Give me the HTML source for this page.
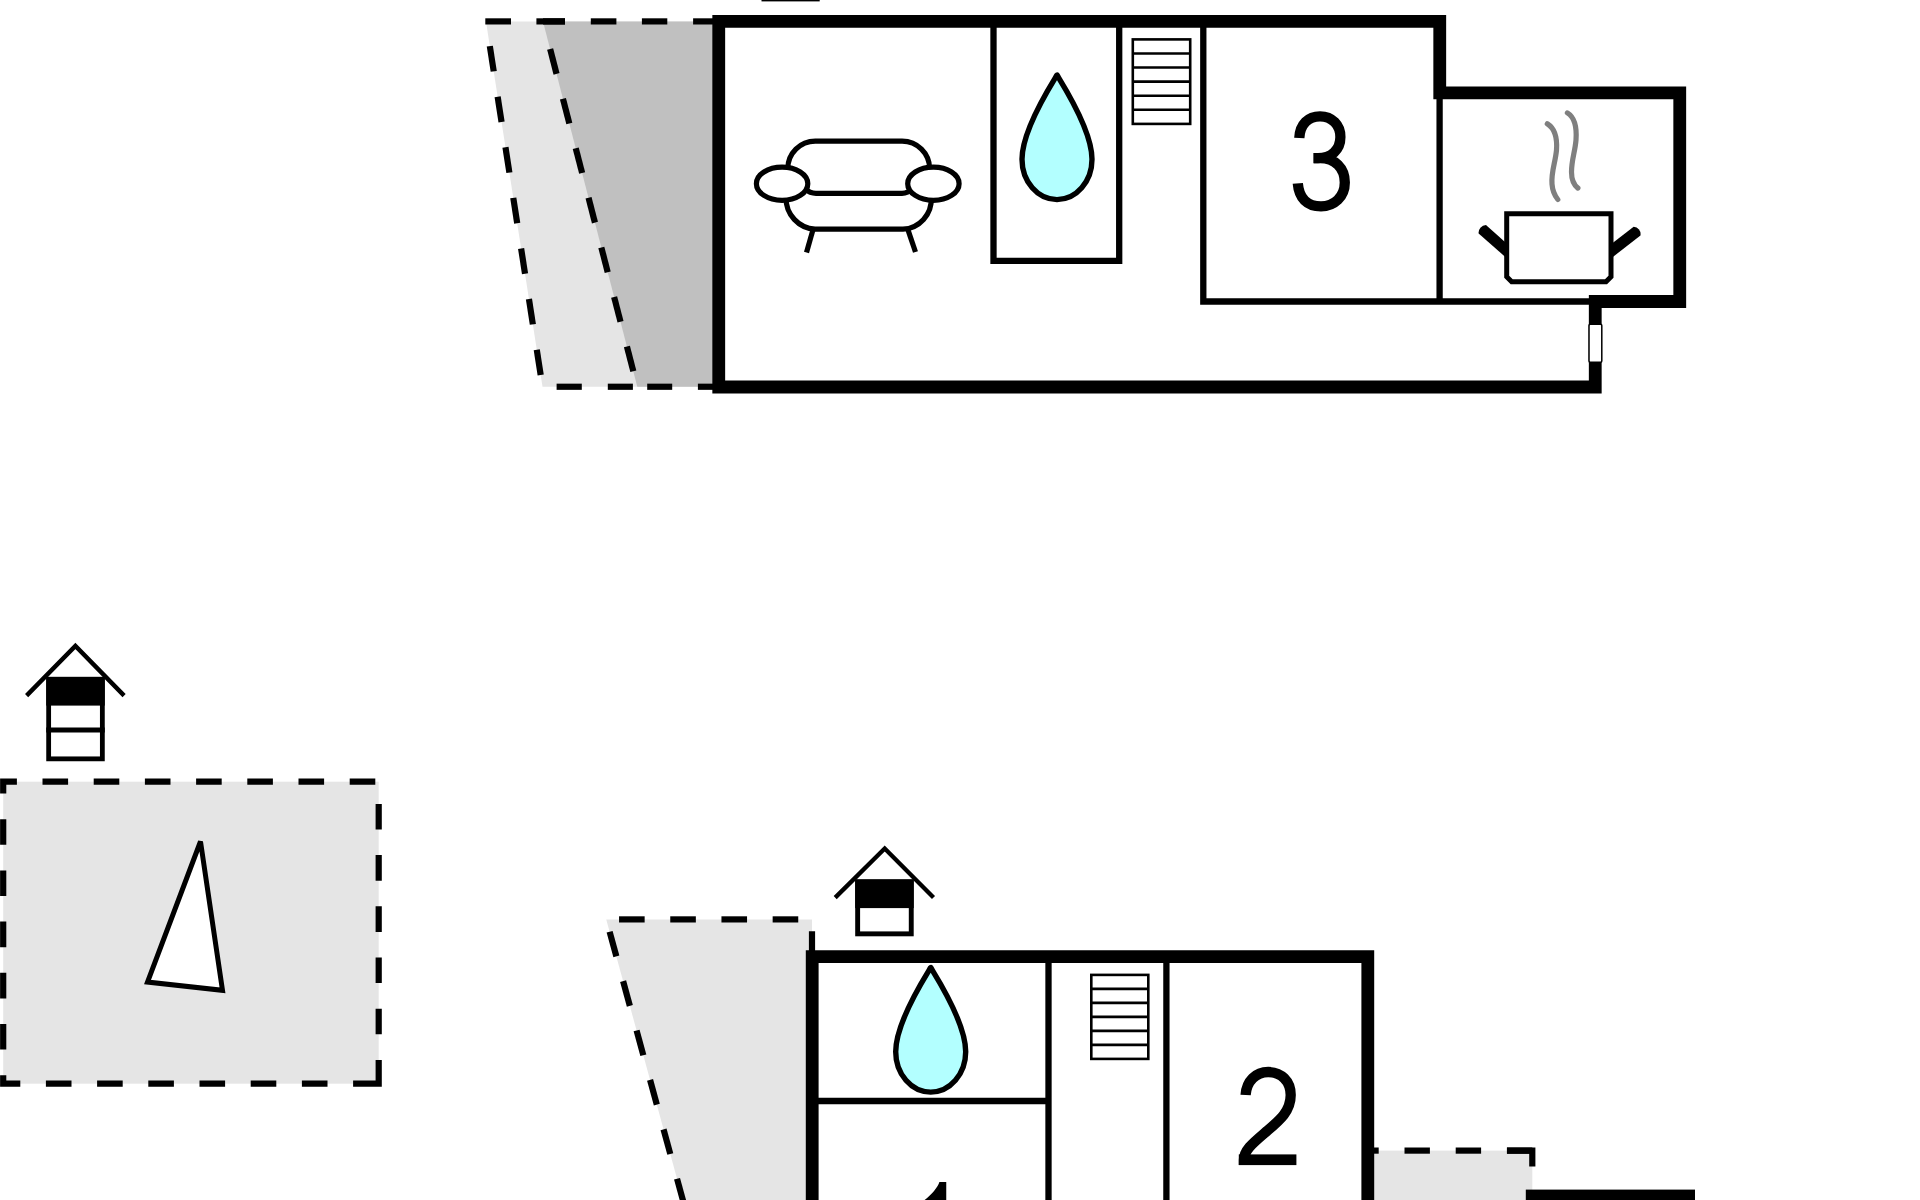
<!DOCTYPE html>
<html><head><meta charset="utf-8"><style>html,body{margin:0;padding:0;width:1920px;height:1200px;overflow:hidden;background:#fff;font-family:"Liberation Sans",sans-serif}</style></head>
<body>
<svg width="1920" height="1200" viewBox="0 0 1920 1200" style="position:absolute;left:0;top:0">
<rect width="1920" height="1200" fill="#fff"/>
<polygon points="486,21.4 718.75,21.4 718.75,386.75 542.5,386.75" fill="#e5e5e5"/>
<polygon points="543,21.4 718.75,21.4 718.75,386.75 637.3,386.75" fill="#c0c0c0"/>
<line x1="485.30" y1="21.40" x2="511.00" y2="21.40" stroke="#000" stroke-width="6.2"/>
<line x1="536.40" y1="21.40" x2="565.00" y2="21.40" stroke="#000" stroke-width="6.2"/>
<line x1="543.00" y1="21.40" x2="565.00" y2="21.40" stroke="#000" stroke-width="6.2"/>
<line x1="590.80" y1="21.40" x2="616.40" y2="21.40" stroke="#000" stroke-width="6.2"/>
<line x1="641.90" y1="21.40" x2="667.30" y2="21.40" stroke="#000" stroke-width="6.2"/>
<line x1="693.10" y1="21.40" x2="718.70" y2="21.40" stroke="#000" stroke-width="6.2"/>
<line x1="489.82" y1="46.10" x2="493.73" y2="71.40" stroke="#000" stroke-width="6.2"/>
<line x1="497.64" y1="96.70" x2="501.56" y2="122.00" stroke="#000" stroke-width="6.2"/>
<line x1="505.47" y1="147.30" x2="509.38" y2="172.60" stroke="#000" stroke-width="6.2"/>
<line x1="513.29" y1="197.90" x2="517.21" y2="223.19" stroke="#000" stroke-width="6.2"/>
<line x1="521.12" y1="248.49" x2="525.03" y2="273.79" stroke="#000" stroke-width="6.2"/>
<line x1="528.94" y1="299.09" x2="532.86" y2="324.39" stroke="#000" stroke-width="6.2"/>
<line x1="536.77" y1="349.69" x2="540.68" y2="374.99" stroke="#000" stroke-width="6.2"/>
<line x1="550.15" y1="49.10" x2="556.55" y2="73.89" stroke="#000" stroke-width="6.2"/>
<line x1="562.95" y1="98.68" x2="569.34" y2="123.46" stroke="#000" stroke-width="6.2"/>
<line x1="575.74" y1="148.25" x2="582.14" y2="173.04" stroke="#000" stroke-width="6.2"/>
<line x1="588.54" y1="197.83" x2="594.93" y2="222.61" stroke="#000" stroke-width="6.2"/>
<line x1="601.33" y1="247.40" x2="607.73" y2="272.19" stroke="#000" stroke-width="6.2"/>
<line x1="614.13" y1="296.98" x2="620.53" y2="321.76" stroke="#000" stroke-width="6.2"/>
<line x1="626.92" y1="346.55" x2="633.32" y2="371.34" stroke="#000" stroke-width="6.2"/>
<line x1="556.60" y1="386.75" x2="581.80" y2="386.75" stroke="#000" stroke-width="6.2"/>
<line x1="607.80" y1="386.75" x2="632.90" y2="386.75" stroke="#000" stroke-width="6.2"/>
<line x1="647.20" y1="386.75" x2="672.20" y2="386.75" stroke="#000" stroke-width="6.2"/>
<line x1="697.90" y1="386.75" x2="718.75" y2="386.75" stroke="#000" stroke-width="6.2"/>
<path d="M718.75,21.3 H1439.75 V92.8 H1679.75 V301.5 H1595.25 V387 H718.75 Z" fill="none" stroke="#000" stroke-width="12.8" stroke-linejoin="miter"/>
<rect x="1589" y="324.2" width="12.8" height="38" rx="1.2" fill="#fff" stroke="#000" stroke-width="1.5"/>
<path d="M993.5,21.3 V260.9 H1119.2 V21.3" fill="none" stroke="#000" stroke-width="6.3"/>
<path d="M1203.3,21.3 V301.5 H1595.25" fill="none" stroke="#000" stroke-width="6.3"/>
<path d="M1439.6,92.8 V301.5" fill="none" stroke="#000" stroke-width="6.3"/>
<rect x="761.5" y="-4" width="58.2" height="5.4" fill="#000"/>
<rect x="1132.8" y="39.4" width="57.40000000000009" height="84.5" fill="#fff" stroke="#000" stroke-width="2.6"/>
<line x1="1132.8" y1="53.48" x2="1190.2" y2="53.48" stroke="#000" stroke-width="2.6"/>
<line x1="1132.8" y1="67.57" x2="1190.2" y2="67.57" stroke="#000" stroke-width="2.6"/>
<line x1="1132.8" y1="81.65" x2="1190.2" y2="81.65" stroke="#000" stroke-width="2.6"/>
<line x1="1132.8" y1="95.73" x2="1190.2" y2="95.73" stroke="#000" stroke-width="2.6"/>
<line x1="1132.8" y1="109.82" x2="1190.2" y2="109.82" stroke="#000" stroke-width="2.6"/>
<path d="M1057.0,75.00 C1051.0,85.00 1022.0,130.00 1022.0,159.30 A35,40.3 0 0 0 1092.0,159.30 C1092.0,130.00 1063.0,85.00 1057.0,75.00 Z" fill="#b3ffff" stroke="#000" stroke-width="5.4" stroke-linejoin="round"/>
<g fill="none" stroke="#000" stroke-width="5.2">
<path d="M787.8,185 V168.5 A27.5,27.5 0 0 1 815.3,141.1 H902 A27.5,27.5 0 0 1 929.6,168.5 V185"/>
<path d="M805,189 Q810,193.3 816,193.3 H902 Q908,193.3 912,189"/>
<path d="M786,198 A31,31 0 0 0 815,229.2 H903 A30,30 0 0 0 931.3,198"/>
<line x1="813" y1="229.6" x2="806.5" y2="252.5"/><line x1="907.9" y1="229.6" x2="915.5" y2="252"/>
<ellipse cx="782.1" cy="183.7" rx="25.7" ry="16.6" fill="#fff"/>
<ellipse cx="933.4" cy="183.7" rx="25.7" ry="16.6" fill="#fff"/>
</g>
<g fill="none" stroke="#000" stroke-width="10.3" stroke-linecap="butt"><path d="M1299.3,138 C1300,124 1308.5,116.4 1320,116.4 C1332,116.4 1340.4,125 1340.4,137 C1340.4,150 1331,158.1 1318,158.1 H1313.6"/><path d="M1313.6,158.1 H1320 C1335,158.1 1344.8,168 1344.8,182.5 C1344.8,197 1334,206.4 1321,206.4 C1307,206.4 1299,198 1297.8,183.3"/></g>
<path d="M1506.7,213.8 H1611 V276.7 L1606,281.7 H1511.7 L1506.7,276.7 Z" fill="#fff" stroke="#000" stroke-width="5"/>
<path d="M1478.63,233.41 L1506.70,258.20 L1506.70,243.39 L1485.97,225.09 A7.5,7.5 0 0 0 1478.63,233.41 Z" fill="#000"/>
<path d="M1633.65,226.72 L1611.00,244.36 L1611.00,258.42 L1640.47,235.48 A7.5,7.5 0 0 0 1633.65,226.72 Z" fill="#000"/>
<rect x="1498" y="238" width="8.7" height="20" fill="#000" opacity="0"/>
<g fill="none" stroke="#7f7f7f" stroke-width="5.2" stroke-linecap="round">
<path d="M1547.3,123.8 C1554,128 1557.5,136 1556.5,150 C1555.5,162 1551,172 1552,184 C1552.5,191 1555,196 1557.8,199.5"/>
<path d="M1567.4,112.9 C1574,117 1577,126 1576,140 C1575,152 1571.5,160 1571.5,172 C1571.5,180 1574,185 1577.9,188.1"/>
</g>
<rect x="48.65" y="679.3" width="53.7" height="79.55000000000003" fill="#fff" stroke="#000" stroke-width="4.8"/>
<rect x="46.25" y="676.9" width="58.5" height="28.700000000000045" fill="#000"/>
<line x1="46.25" y1="730" x2="104.75" y2="730" stroke="#000" stroke-width="5"/>
<path d="M26.6,695.6 L75.4,646 L124.1,695.6" fill="none" stroke="#000" stroke-width="4.4" stroke-linejoin="miter"/>
<rect x="857.6500000000001" y="881.85" width="53.6" height="51.99999999999998" fill="#fff" stroke="#000" stroke-width="4.9"/>
<rect x="855.2" y="879.4" width="58.5" height="28.700000000000045" fill="#000"/>
<path d="M835.2,897.6 L884.7,848.5 L933.5,897.6" fill="none" stroke="#000" stroke-width="4.3" stroke-linejoin="miter"/>
<rect x="3.2" y="781.7" width="375.5" height="302" fill="#e5e5e5"/>
<path d="M378.7,1083.7 H3.2 V781.7 H378.7 Z" fill="none" stroke="#000" stroke-width="6.2" stroke-dasharray="25.6 25.6" stroke-linejoin="miter"/>
<polygon points="200.5,841.5 147.5,982 222.5,990.3" fill="#fff" stroke="#000" stroke-width="5" stroke-linejoin="miter" stroke-miterlimit="2"/>
<polygon points="606.25,919.4 812,919.4 812,1210 685.58,1210" fill="#e5e5e5"/>
<line x1="798.25" y1="919.40" x2="772.65" y2="919.40" stroke="#000" stroke-width="6.2"/>
<line x1="747.05" y1="919.40" x2="721.45" y2="919.40" stroke="#000" stroke-width="6.2"/>
<line x1="695.85" y1="919.40" x2="670.25" y2="919.40" stroke="#000" stroke-width="6.2"/>
<line x1="644.65" y1="919.40" x2="619.05" y2="919.40" stroke="#000" stroke-width="6.2"/>
<line x1="609.62" y1="931.75" x2="616.36" y2="956.44" stroke="#000" stroke-width="6.2"/>
<line x1="623.11" y1="981.14" x2="629.85" y2="1005.84" stroke="#000" stroke-width="6.2"/>
<line x1="636.59" y1="1030.53" x2="643.33" y2="1055.23" stroke="#000" stroke-width="6.2"/>
<line x1="650.07" y1="1079.93" x2="656.82" y2="1104.62" stroke="#000" stroke-width="6.2"/>
<line x1="663.56" y1="1129.32" x2="670.30" y2="1154.01" stroke="#000" stroke-width="6.2"/>
<line x1="677.04" y1="1178.71" x2="683.78" y2="1203.41" stroke="#000" stroke-width="6.2"/>
<line x1="812.00" y1="931.25" x2="812.00" y2="952.00" stroke="#000" stroke-width="6.2"/>
<rect x="1367.8" y="1150.6" width="164.5" height="60" fill="#e5e5e5"/>
<line x1="1532.30" y1="1150.60" x2="1506.90" y2="1150.60" stroke="#000" stroke-width="6.2"/>
<line x1="1481.10" y1="1150.60" x2="1455.70" y2="1150.60" stroke="#000" stroke-width="6.2"/>
<line x1="1429.90" y1="1150.60" x2="1404.50" y2="1150.60" stroke="#000" stroke-width="6.2"/>
<line x1="1378.70" y1="1150.60" x2="1369.00" y2="1150.60" stroke="#000" stroke-width="6.2"/>
<path d="M1507,1150.6 H1532.3 V1166.5" fill="none" stroke="#000" stroke-width="6.2" stroke-linejoin="miter"/>
<rect x="1525.8" y="1189.6" width="169.2" height="20" fill="#000"/>
<path d="M812.2,1215 V956.6 H1367.8 V1215" fill="none" stroke="#000" stroke-width="12.8" stroke-linejoin="miter"/>
<path d="M1048.5,956.6 V1215 M1166.4,956.6 V1215 M812.2,1101 H1048.5" fill="none" stroke="#000" stroke-width="6.3"/>
<rect x="1091.3" y="974.9" width="57.0" height="84.00000000000011" fill="#fff" stroke="#000" stroke-width="2.6"/>
<line x1="1091.3" y1="988.90" x2="1148.3" y2="988.90" stroke="#000" stroke-width="2.6"/>
<line x1="1091.3" y1="1002.90" x2="1148.3" y2="1002.90" stroke="#000" stroke-width="2.6"/>
<line x1="1091.3" y1="1016.90" x2="1148.3" y2="1016.90" stroke="#000" stroke-width="2.6"/>
<line x1="1091.3" y1="1030.90" x2="1148.3" y2="1030.90" stroke="#000" stroke-width="2.6"/>
<line x1="1091.3" y1="1044.90" x2="1148.3" y2="1044.90" stroke="#000" stroke-width="2.6"/>
<path d="M930.7,967.50 C924.7,977.50 895.7,1022.50 895.7,1051.80 A35,40.3 0 0 0 965.7,1051.80 C965.7,1022.50 936.7,977.50 930.7,967.50 Z" fill="#b3ffff" stroke="#000" stroke-width="5.4" stroke-linejoin="round"/>
<g fill="none" stroke="#000" stroke-width="10.3"><path d="M1245.6,1095 C1246.5,1081 1256,1072 1268.2,1072 C1281,1072 1290.7,1081 1290.7,1095 C1290.7,1111 1280,1120 1267,1131 C1253,1143 1243.95,1150 1243.95,1160 V1165"/></g><rect x="1238.8" y="1154.4" width="57.6" height="10.7" fill="#000"/>
<path d="M939.4,1182 C937.5,1188 931,1195 924,1200.5 H946.25 V1182 Z" fill="#000"/>
</svg>
</body></html>
